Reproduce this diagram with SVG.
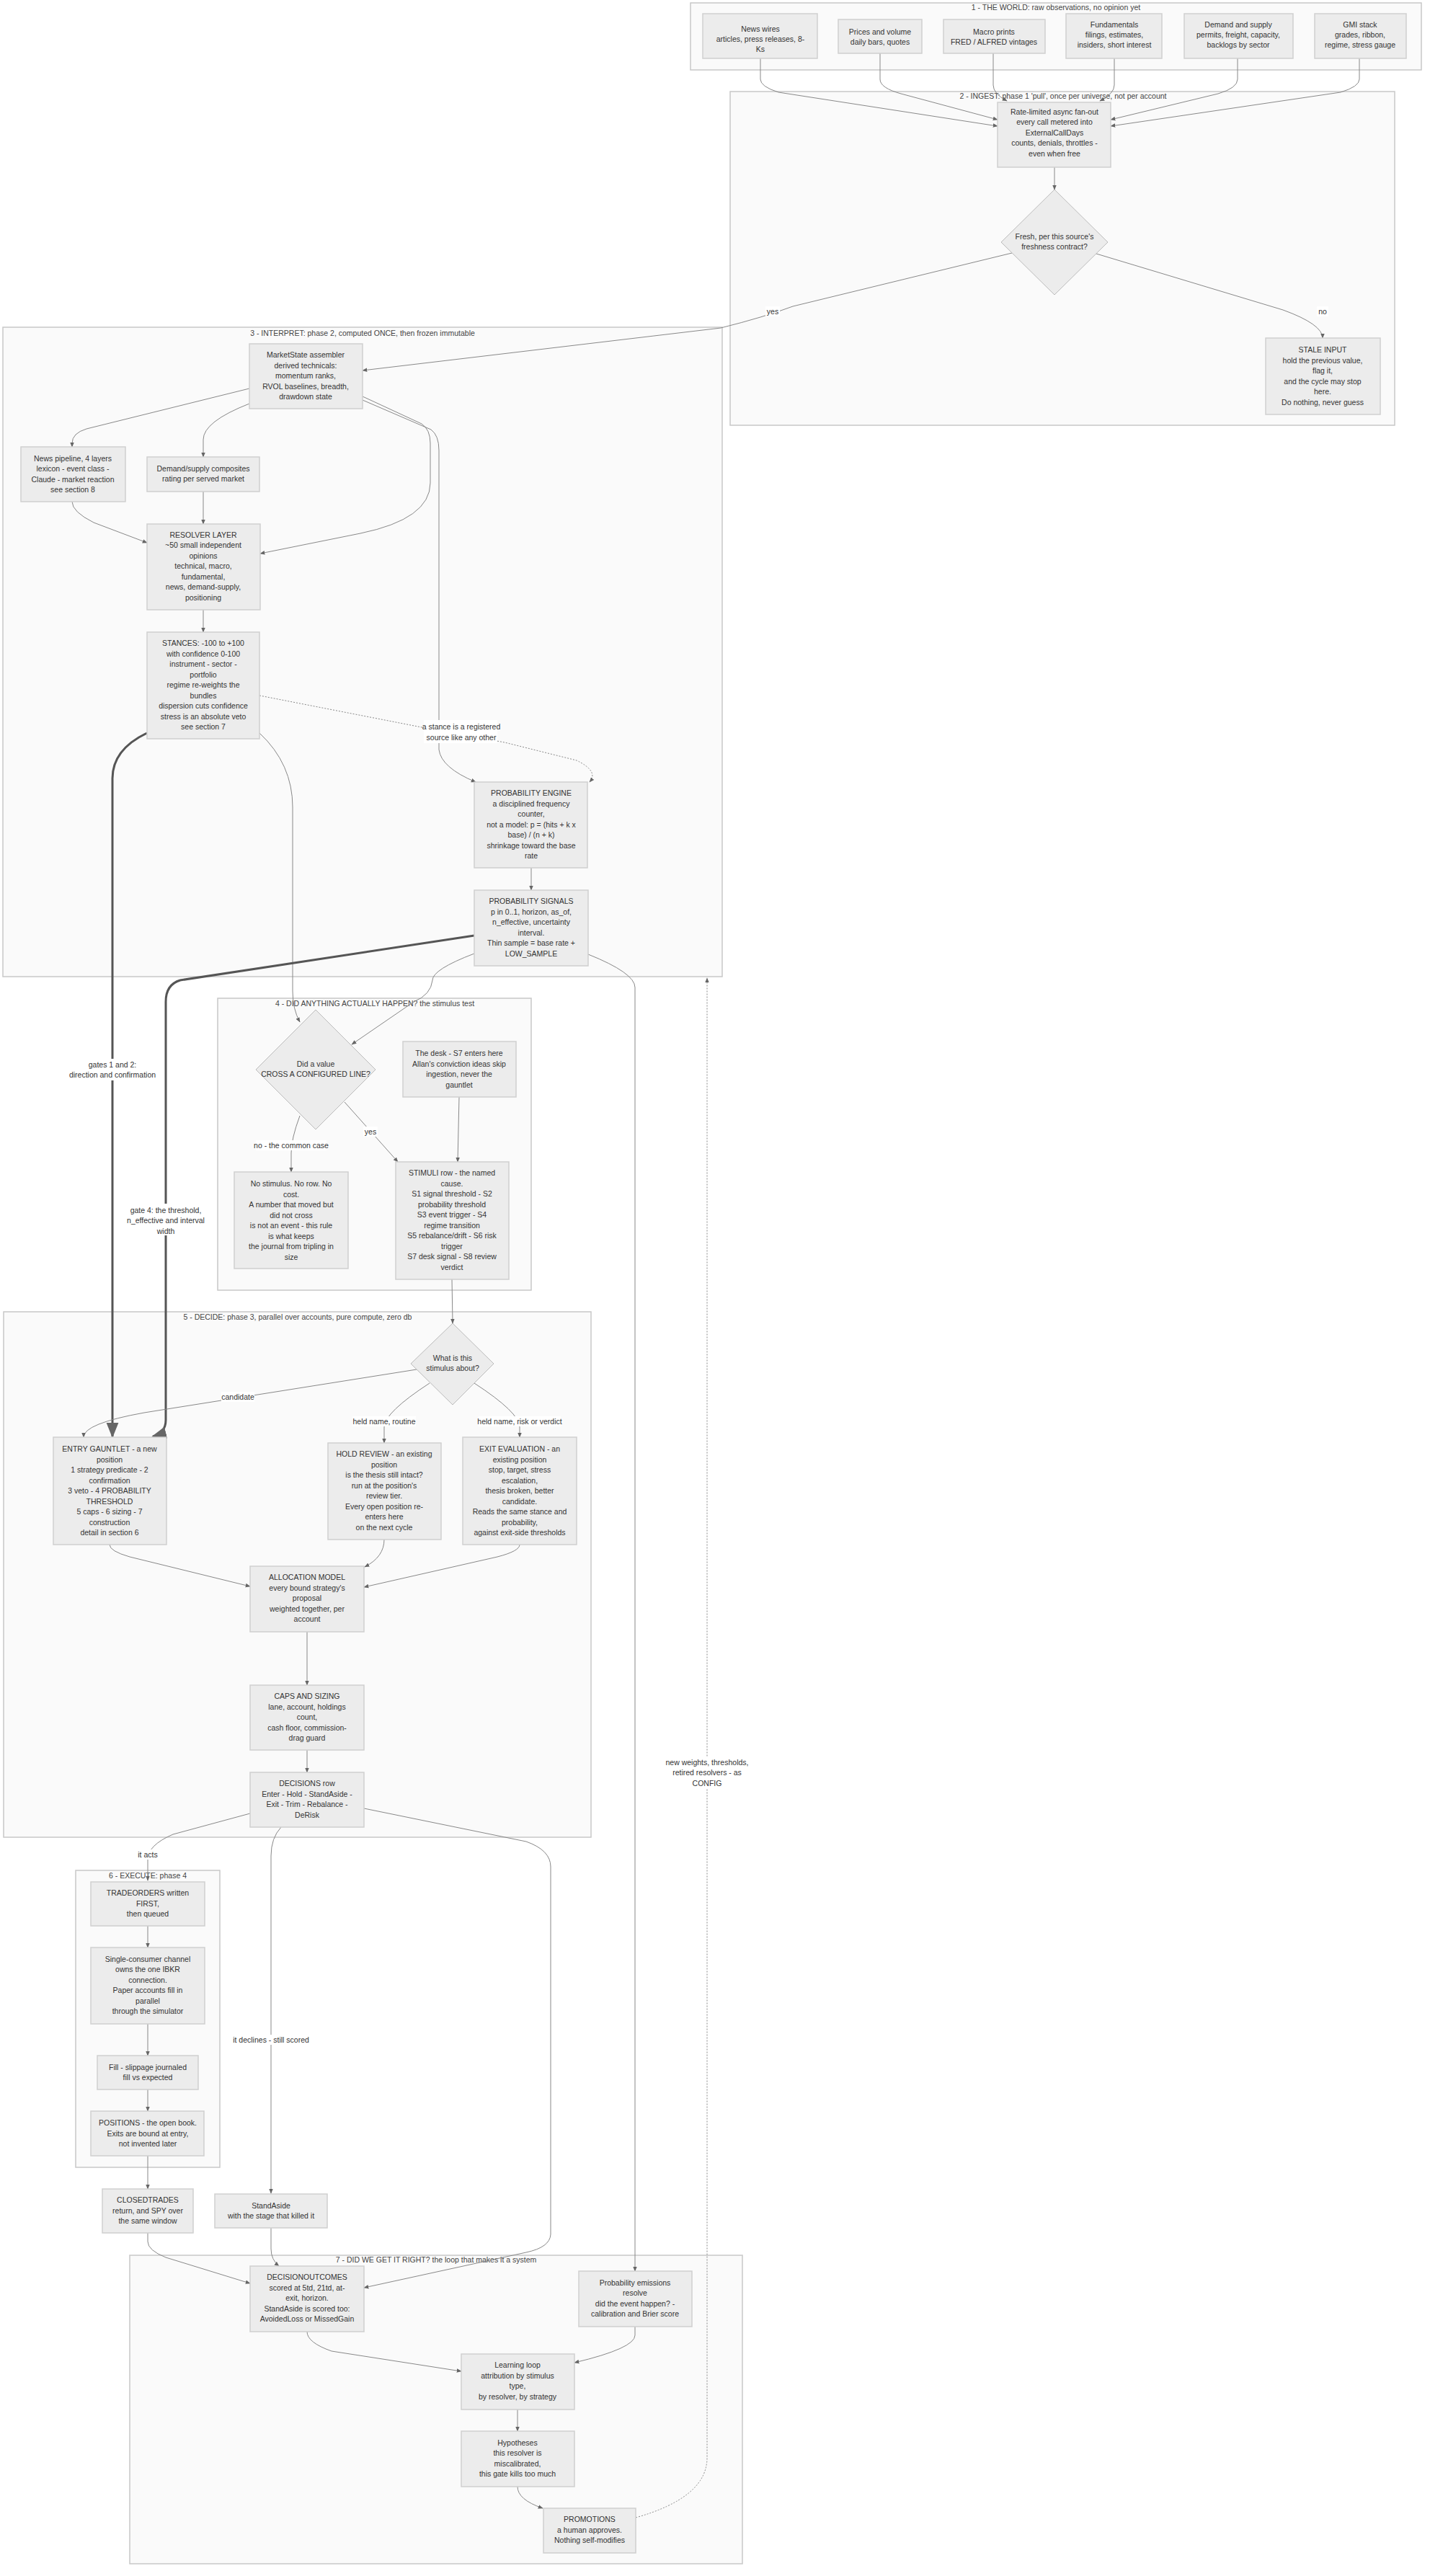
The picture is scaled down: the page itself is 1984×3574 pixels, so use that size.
<svg xmlns="http://www.w3.org/2000/svg" width="1984" height="3574" viewBox="0 0 1984 3574">
<style>
text{font-family:"Liberation Sans",Arial,sans-serif;font-size:10.5px;fill:#333;text-anchor:middle}
.cl{fill:#fafafa;stroke:#c8c8c8;stroke-width:1.5}
.n{fill:#ececec;stroke:#cfcfcf;stroke-width:1.5}
.d{fill:#ececec;stroke:#bbb;stroke-width:1}
.e{fill:none;stroke:#888;stroke-width:1}
.dash{stroke-dasharray:2,2}
.thick{fill:none;stroke:#555;stroke-width:3}
.lb{fill:#fff}
.t{font-size:10.5px;fill:#444}
</style>
<defs>
<marker id="a" viewBox="0 0 10 10" refX="9" refY="5" markerWidth="7" markerHeight="7" orient="auto-start-reverse"><path d="M0,1 L10,5 L0,9 z" fill="#666"/></marker>
</defs>
<rect width="1984" height="3574" fill="#fff"/>

<g id="clusters">
<rect class="cl" x="958" y="4" width="1014" height="93"/><text class="t" x="1465" y="14">1 - THE WORLD: raw observations, no opinion yet</text>
<rect class="cl" x="1013" y="127" width="922" height="463"/><text class="t" x="1475" y="137">2 - INGEST: phase 1 'pull', once per universe, not per account</text>
<rect class="cl" x="4" y="454" width="998" height="901"/><text class="t" x="503" y="466">3 - INTERPRET: phase 2, computed ONCE, then frozen immutable</text>
<rect class="cl" x="302" y="1385" width="435" height="405"/><text class="t" x="520" y="1396">4 - DID ANYTHING ACTUALLY HAPPEN? the stimulus test</text>
<rect class="cl" x="5" y="1820" width="815" height="729"/><text class="t" x="413" y="1831">5 - DECIDE: phase 3, parallel over accounts, pure compute, zero db</text>
<rect class="cl" x="105" y="2595" width="200" height="412"/><text class="t" x="205" y="2606">6 - EXECUTE: phase 4</text>
<rect class="cl" x="180" y="3129" width="850" height="428"/><text class="t" x="605" y="3139">7 - DID WE GET IT RIGHT? the loop that makes it a system</text>
</g>

<g id="connectors">
<path class="e" d="M1055,81 L1055,110 Q1055,120 1080,128 L1384,175" marker-end="url(#a)"/>
<path class="e" d="M1221,74 L1221,110 Q1221,122 1250,130 L1384,166" marker-end="url(#a)"/>
<path class="e" d="M1378,74 L1378,118 Q1378,130 1397,140" marker-end="url(#a)"/>
<path class="e" d="M1546,81 L1546,118 Q1546,130 1526,140" marker-end="url(#a)"/>
<path class="e" d="M1717,81 L1717,110 Q1717,122 1690,130 L1541,166" marker-end="url(#a)"/>
<path class="e" d="M1886,81 L1886,110 Q1886,120 1860,128 L1541,175" marker-end="url(#a)"/>
<path class="e" d="M1463,232 L1463,263" marker-end="url(#a)"/>
<path class="e" d="M1521,352 L1780,430 Q1835,450 1835,469" marker-end="url(#a)"/>
<path class="e" d="M1404,351 L1100,425 Q1060,440 1000,455 L503,514" marker-end="url(#a)"/>
<path class="e" d="M346,539 L120,595 Q100,601 100,615 L100,620" marker-end="url(#a)"/>
<path class="e" d="M346,560 Q282,585 282,610 L282,634" marker-end="url(#a)"/>
<path class="e" d="M100,696 Q100,710 130,725 L204,753" marker-end="url(#a)"/>
<path class="e" d="M282,682 L282,727" marker-end="url(#a)"/>
<path class="e" d="M503,550 L585,588 Q597,596 597,615 L597,670 Q597,720 500,740 L361,768" marker-end="url(#a)"/>
<path class="e" d="M503,555 L598,596 Q609,604 609,625 L609,1040 Q612,1065 660,1085" marker-end="url(#a)"/>
<path class="e" d="M282,846 L282,877" marker-end="url(#a)"/>
<path class="e dash" d="M360,965 L590,1010 L700,1030 L800,1055 Q831,1070 818,1085" marker-end="url(#a)"/>
<path class="e" d="M360,1017 Q406,1060 406,1120 L406,1375 Q406,1400 416,1418" marker-end="url(#a)"/>
<path class="e" d="M737,1204 L737,1235" marker-end="url(#a)"/>
<path class="e" d="M658,1323 Q600,1345 600,1360 Q598,1380 574,1390 L488,1449" marker-end="url(#a)"/>
<path class="e" d="M816,1324 Q881,1350 881,1370 L881,3151" marker-end="url(#a)"/>
<path class="thick" d="M658,1298 L250,1360 Q230,1366 230,1390 L230,1970 Q230,1988 212,1993" marker-end="url(#a)"/>
<path class="thick" d="M204,1017 Q156,1040 156,1080 L156,1993" marker-end="url(#a)"/>
<path class="e" d="M416,1548 Q404,1580 404,1600 L404,1626" marker-end="url(#a)"/>
<path class="e" d="M478,1529 L552,1612" marker-end="url(#a)"/>
<path class="e" d="M637,1522 L635,1612" marker-end="url(#a)"/>
<path class="e" d="M627,1775 L628,1836" marker-end="url(#a)"/>
<path class="e" d="M578,1900 L200,1960 Q116,1975 116,1994" marker-end="url(#a)"/>
<path class="e" d="M596,1919 Q533,1960 533,1980 L533,2002" marker-end="url(#a)"/>
<path class="e" d="M658,1919 Q721,1960 721,1980 L721,1994" marker-end="url(#a)"/>
<path class="e" d="M152,2143 Q152,2152 180,2160 L347,2201" marker-end="url(#a)"/>
<path class="e" d="M533,2136 Q533,2160 506,2174" marker-end="url(#a)"/>
<path class="e" d="M721,2143 Q721,2152 690,2160 L505,2202" marker-end="url(#a)"/>
<path class="e" d="M426,2264 L426,2338" marker-end="url(#a)"/>
<path class="e" d="M426,2428 L426,2459" marker-end="url(#a)"/>
<path class="e" d="M347,2516 L240,2545 Q205,2560 205,2580 L205,2609" marker-end="url(#a)"/>
<path class="e" d="M390,2535 Q376,2550 376,2575 L376,3043" marker-end="url(#a)"/>
<path class="e" d="M505,2509 L730,2555 Q764,2567 764,2590 L764,3100 Q763,3118 730,3125 L505,3174" marker-end="url(#a)"/>
<path class="e" d="M205,2672 L205,2702" marker-end="url(#a)"/>
<path class="e" d="M205,2808 L205,2852" marker-end="url(#a)"/>
<path class="e" d="M205,2899 L205,2929" marker-end="url(#a)"/>
<path class="e" d="M205,2991 L205,3037" marker-end="url(#a)"/>
<path class="e" d="M205,3098 L205,3110 Q205,3122 230,3132 L347,3168" marker-end="url(#a)"/>
<path class="e" d="M376,3091 L376,3120 Q376,3135 387,3144" marker-end="url(#a)"/>
<path class="e" d="M426,3235 Q426,3250 460,3262 L640,3290" marker-end="url(#a)"/>
<path class="e" d="M881,3228 L881,3240 Q881,3258 797,3278" marker-end="url(#a)"/>
<path class="e" d="M718,3343 L718,3373" marker-end="url(#a)"/>
<path class="e" d="M718,3450 Q718,3468 753,3480" marker-end="url(#a)"/>
<path class="e dash" d="M882,3493 Q981,3465 981,3410 L981,1357" marker-end="url(#a)"/>
</g>

<g id="labels">
<rect class="lb" x="1062" y="425" width="20" height="14"/><text x="1072" y="436">yes</text>
<rect class="lb" x="1827" y="425" width="16" height="14"/><text x="1835" y="436">no</text>
<rect class="lb" x="588" y="999" width="102" height="32"/><text x="640" y="1012">a stance is a registered</text><text x="640" y="1027">source like any other</text>
<rect class="lb" x="96" y="1469" width="120" height="30"/><text x="156" y="1481">gates 1 and 2:</text><text x="156" y="1495">direction and confirmation</text>
<rect class="lb" x="174" y="1670" width="112" height="44"/><text x="230" y="1683">gate 4: the threshold,</text><text x="230" y="1697">n_effective and interval</text><text x="230" y="1712">width</text>
<rect class="lb" x="355" y="1582" width="98" height="14"/><text x="404" y="1593">no - the common case</text>
<rect class="lb" x="504" y="1563" width="20" height="14"/><text x="514" y="1574">yes</text>
<rect class="lb" x="307" y="1931" width="46" height="14"/><text x="330" y="1942">candidate</text>
<rect class="lb" x="489" y="1965" width="88" height="14"/><text x="533" y="1976">held name, routine</text>
<rect class="lb" x="664" y="1965" width="114" height="14"/><text x="721" y="1976">held name, risk or verdict</text>
<rect class="lb" x="190" y="2566" width="30" height="14"/><text x="205" y="2577">it acts</text>
<rect class="lb" x="322" y="2823" width="108" height="14"/><text x="376" y="2834">it declines - still scored</text>
<rect class="lb" x="923" y="2438" width="116" height="44"/><text x="981" y="2449">new weights, thresholds,</text><text x="981" y="2463">retired resolvers - as</text><text x="981" y="2478">CONFIG</text>
</g>

<g id="n_news"><rect class="n" x="975" y="19" width="159" height="62"/><text x="1055" y="44">News wires</text><text x="1055" y="58">articles, press releases, 8-</text><text x="1055" y="72">Ks</text></g>
<g id="n_prices"><rect class="n" x="1163" y="27" width="116" height="47"/><text x="1221" y="48">Prices and volume</text><text x="1221" y="62">daily bars, quotes</text></g>
<g id="n_macro"><rect class="n" x="1309" y="27" width="141" height="47"/><text x="1379" y="48">Macro prints</text><text x="1379" y="62">FRED / ALFRED vintages</text></g>
<g id="n_fund"><rect class="n" x="1479" y="19" width="133" height="62"/><text x="1546" y="38">Fundamentals</text><text x="1546" y="52">filings, estimates,</text><text x="1546" y="66">insiders, short interest</text></g>
<g id="n_demand"><rect class="n" x="1643" y="19" width="151" height="62"/><text x="1718" y="38">Demand and supply</text><text x="1718" y="52">permits, freight, capacity,</text><text x="1718" y="66">backlogs by sector</text></g>
<g id="n_gmi"><rect class="n" x="1824" y="19" width="127" height="62"/><text x="1887" y="38">GMI stack</text><text x="1887" y="52">grades, ribbon,</text><text x="1887" y="66">regime, stress gauge</text></g>

<g id="n_rate"><rect class="n" x="1384" y="142" width="157" height="90"/><text x="1463" y="159">Rate-limited async fan-out</text><text x="1463" y="173">every call metered into</text><text x="1463" y="188">ExternalCallDays</text><text x="1463" y="202">counts, denials, throttles -</text><text x="1463" y="217">even when free</text></g>
<g id="n_fresh"><polygon class="d" points="1463,263 1537,336 1463,409 1389,336"/><text x="1463" y="332">Fresh, per this source's</text><text x="1463" y="346">freshness contract?</text></g>
<g id="n_stale"><rect class="n" x="1756" y="469" width="159" height="106"/><text x="1835" y="489">STALE INPUT</text><text x="1835" y="504">hold the previous value,</text><text x="1835" y="518">flag it,</text><text x="1835" y="533">and the cycle may stop</text><text x="1835" y="547">here.</text><text x="1835" y="562">Do nothing, never guess</text></g>

<g id="n_market"><rect class="n" x="346" y="477" width="157" height="90"/><text x="424" y="496">MarketState assembler</text><text x="424" y="511">derived technicals:</text><text x="424" y="525">momentum ranks,</text><text x="424" y="540">RVOL baselines, breadth,</text><text x="424" y="554">drawdown state</text></g>
<g id="n_newspipe"><rect class="n" x="29" y="620" width="145" height="76"/><text x="101" y="640">News pipeline, 4 layers</text><text x="101" y="654">lexicon - event class -</text><text x="101" y="669">Claude - market reaction</text><text x="101" y="683">see section 8</text></g>
<g id="n_dscomp"><rect class="n" x="204" y="634" width="156" height="48"/><text x="282" y="654">Demand/supply composites</text><text x="282" y="668">rating per served market</text></g>
<g id="n_resolver"><rect class="n" x="204" y="727" width="157" height="119"/><text x="282" y="746">RESOLVER LAYER</text><text x="282" y="760">~50 small independent</text><text x="282" y="775">opinions</text><text x="282" y="789">technical, macro,</text><text x="282" y="804">fundamental,</text><text x="282" y="818">news, demand-supply,</text><text x="282" y="833">positioning</text></g>
<g id="n_stances"><rect class="n" x="204" y="877" width="156" height="148"/><text x="282" y="896">STANCES: -100 to +100</text><text x="282" y="911">with confidence 0-100</text><text x="282" y="925">instrument - sector -</text><text x="282" y="940">portfolio</text><text x="282" y="954">regime re-weights the</text><text x="282" y="969">bundles</text><text x="282" y="983">dispersion cuts confidence</text><text x="282" y="998">stress is an absolute veto</text><text x="282" y="1012">see section 7</text></g>
<g id="n_engine"><rect class="n" x="658" y="1085" width="157" height="119"/><text x="737" y="1104">PROBABILITY ENGINE</text><text x="737" y="1119">a disciplined frequency</text><text x="737" y="1133">counter,</text><text x="737" y="1148">not a model: p = (hits + k x</text><text x="737" y="1162">base) / (n + k)</text><text x="737" y="1177">shrinkage toward the base</text><text x="737" y="1191">rate</text></g>
<g id="n_signals"><rect class="n" x="658" y="1235" width="158" height="105"/><text x="737" y="1254">PROBABILITY SIGNALS</text><text x="737" y="1269">p in 0..1, horizon, as_of,</text><text x="737" y="1283">n_effective, uncertainty</text><text x="737" y="1298">interval.</text><text x="737" y="1312">Thin sample = base rate +</text><text x="737" y="1327">LOW_SAMPLE</text></g>

<g id="n_cross"><polygon class="d" points="438,1401 521,1484 438,1567 355,1484"/><text x="438" y="1480">Did a value</text><text x="438" y="1494">CROSS A CONFIGURED LINE?</text></g>
<g id="n_desk"><rect class="n" x="559" y="1445" width="157" height="77"/><text x="637" y="1465">The desk - S7 enters here</text><text x="637" y="1480">Allan's conviction ideas skip</text><text x="637" y="1494">ingestion, never the</text><text x="637" y="1509">gauntlet</text></g>
<g id="n_nostim"><rect class="n" x="325" y="1626" width="158" height="134"/><text x="404" y="1646">No stimulus. No row. No</text><text x="404" y="1661">cost.</text><text x="404" y="1675">A number that moved but</text><text x="404" y="1690">did not cross</text><text x="404" y="1704">is not an event - this rule</text><text x="404" y="1719">is what keeps</text><text x="404" y="1733">the journal from tripling in</text><text x="404" y="1748">size</text></g>
<g id="n_stimuli"><rect class="n" x="549" y="1612" width="157" height="163"/><text x="627" y="1631">STIMULI row - the named</text><text x="627" y="1646">cause.</text><text x="627" y="1660">S1 signal threshold - S2</text><text x="627" y="1675">probability threshold</text><text x="627" y="1689">S3 event trigger - S4</text><text x="627" y="1704">regime transition</text><text x="627" y="1718">S5 rebalance/drift - S6 risk</text><text x="627" y="1733">trigger</text><text x="627" y="1747">S7 desk signal - S8 review</text><text x="627" y="1762">verdict</text></g>

<g id="n_about"><polygon class="d" points="628,1836 685,1892 628,1949 570,1892"/><text x="628" y="1888">What is this</text><text x="628" y="1902">stimulus about?</text></g>
<g id="n_entry"><rect class="n" x="74" y="1994" width="157" height="149"/><text x="152" y="2014">ENTRY GAUNTLET - a new</text><text x="152" y="2029">position</text><text x="152" y="2043">1 strategy predicate - 2</text><text x="152" y="2058">confirmation</text><text x="152" y="2072">3 veto - 4 PROBABILITY</text><text x="152" y="2087">THRESHOLD</text><text x="152" y="2101">5 caps - 6 sizing - 7</text><text x="152" y="2116">construction</text><text x="152" y="2130">detail in section 6</text></g>
<g id="n_hold"><rect class="n" x="455" y="2002" width="157" height="134"/><text x="533" y="2021">HOLD REVIEW - an existing</text><text x="533" y="2036">position</text><text x="533" y="2050">is the thesis still intact?</text><text x="533" y="2065">run at the position's</text><text x="533" y="2079">review tier.</text><text x="533" y="2094">Every open position re-</text><text x="533" y="2108">enters here</text><text x="533" y="2123">on the next cycle</text></g>
<g id="n_exit"><rect class="n" x="642" y="1994" width="158" height="149"/><text x="721" y="2014">EXIT EVALUATION - an</text><text x="721" y="2029">existing position</text><text x="721" y="2043">stop, target, stress</text><text x="721" y="2058">escalation,</text><text x="721" y="2072">thesis broken, better</text><text x="721" y="2087">candidate.</text><text x="721" y="2101">Reads the same stance and</text><text x="721" y="2116">probability,</text><text x="721" y="2130">against exit-side thresholds</text></g>
<g id="n_alloc"><rect class="n" x="347" y="2173" width="158" height="91"/><text x="426" y="2192">ALLOCATION MODEL</text><text x="426" y="2207">every bound strategy's</text><text x="426" y="2221">proposal</text><text x="426" y="2236">weighted together, per</text><text x="426" y="2250">account</text></g>
<g id="n_caps"><rect class="n" x="347" y="2338" width="158" height="90"/><text x="426" y="2357">CAPS AND SIZING</text><text x="426" y="2372">lane, account, holdings</text><text x="426" y="2386">count,</text><text x="426" y="2401">cash floor, commission-</text><text x="426" y="2415">drag guard</text></g>
<g id="n_decisions"><rect class="n" x="347" y="2459" width="158" height="76"/><text x="426" y="2478">DECISIONS row</text><text x="426" y="2493">Enter - Hold - StandAside -</text><text x="426" y="2507">Exit - Trim - Rebalance -</text><text x="426" y="2522">DeRisk</text></g>

<g id="n_trade"><rect class="n" x="126" y="2611" width="158" height="61"/><text x="205" y="2630">TRADEORDERS written</text><text x="205" y="2645">FIRST,</text><text x="205" y="2659">then queued</text></g>
<g id="n_single"><rect class="n" x="126" y="2702" width="158" height="106"/><text x="205" y="2722">Single-consumer channel</text><text x="205" y="2736">owns the one IBKR</text><text x="205" y="2751">connection.</text><text x="205" y="2765">Paper accounts fill in</text><text x="205" y="2780">parallel</text><text x="205" y="2794">through the simulator</text></g>
<g id="n_fill"><rect class="n" x="135" y="2852" width="140" height="47"/><text x="205" y="2872">Fill - slippage journaled</text><text x="205" y="2886">fill vs expected</text></g>
<g id="n_pos"><rect class="n" x="126" y="2929" width="157" height="62"/><text x="205" y="2949">POSITIONS - the open book.</text><text x="205" y="2964">Exits are bound at entry,</text><text x="205" y="2978">not invented later</text></g>
<g id="n_closed"><rect class="n" x="142" y="3037" width="126" height="61"/><text x="205" y="3056">CLOSEDTRADES</text><text x="205" y="3071">return, and SPY over</text><text x="205" y="3085">the same window</text></g>
<g id="n_standaside"><rect class="n" x="298" y="3044" width="156" height="47"/><text x="376" y="3064">StandAside</text><text x="376" y="3078">with the stage that killed it</text></g>

<g id="n_outcomes"><rect class="n" x="347" y="3144" width="158" height="91"/><text x="426" y="3163">DECISIONOUTCOMES</text><text x="426" y="3178">scored at 5td, 21td, at-</text><text x="426" y="3192">exit, horizon.</text><text x="426" y="3207">StandAside is scored too:</text><text x="426" y="3221">AvoidedLoss or MissedGain</text></g>
<g id="n_emissions"><rect class="n" x="803" y="3151" width="157" height="77"/><text x="881" y="3171">Probability emissions</text><text x="881" y="3185">resolve</text><text x="881" y="3200">did the event happen? -</text><text x="881" y="3214">calibration and Brier score</text></g>
<g id="n_learning"><rect class="n" x="640" y="3266" width="157" height="77"/><text x="718" y="3285">Learning loop</text><text x="718" y="3300">attribution by stimulus</text><text x="718" y="3314">type,</text><text x="718" y="3329">by resolver, by strategy</text></g>
<g id="n_hyp"><rect class="n" x="640" y="3373" width="157" height="77"/><text x="718" y="3393">Hypotheses</text><text x="718" y="3407">this resolver is</text><text x="718" y="3422">miscalibrated,</text><text x="718" y="3436">this gate kills too much</text></g>
<g id="n_promo"><rect class="n" x="754" y="3480" width="128" height="62"/><text x="818" y="3499">PROMOTIONS</text><text x="818" y="3514">a human approves.</text><text x="818" y="3528">Nothing self-modifies</text></g>
</svg>
